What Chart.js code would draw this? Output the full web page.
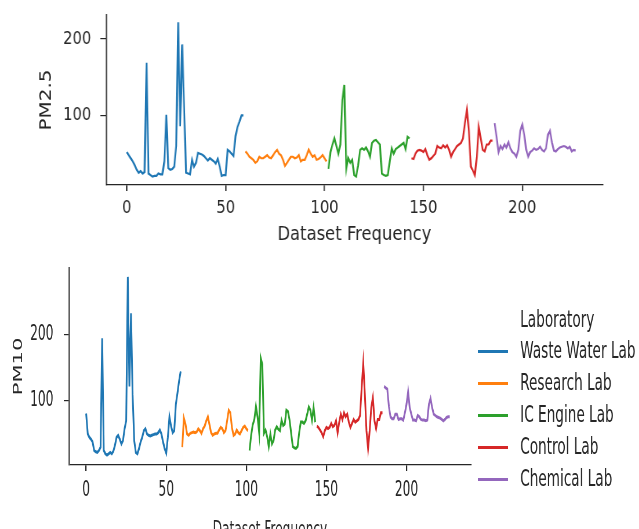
<!DOCTYPE html>
<html>
<head>
<meta charset="utf-8">
<script src="https://cdn.jsdelivr.net/npm/chart.js@4.4.1/dist/chart.umd.min.js"></script>
<style>
  html, body { margin: 0; padding: 0; background: #fff; overflow: hidden; width: 639px; height: 529px; }
  .panel { position: absolute; left: 0; transform-origin: 0 0; }
  #topPanel { top: 0; transform: scaleX(0.8192); }
  #bottomPanel { top: 250px; transform: scaleX(0.5799); }
</style>
</head>
<body>
<div class="panel" id="topPanel"><canvas id="pm25Chart" width="780" height="260"></canvas></div>
<div class="panel" id="bottomPanel"><canvas id="pm10Chart" width="1102" height="300"></canvas></div>
<script>
const labs = ["Waste Water Lab", "Research Lab", "IC Engine Lab", "Control Lab", "Chemical Lab"];
const labColors = ["#1f77b4", "#ff7f0e", "#2ca02c", "#d62728", "#9467bd"];
// first "Dataset Frequency" index of each lab
const labStart = [0, 60, 102, 144, 186];

const xTicks = [0, 50, 100, 150, 200];
const pm25Ticks = [100, 200];
const pm10Ticks = [100, 200];

// PM2.5 readings
const pm25WasteWater = [52, 48, 44, 40, 35, 29, 25, 27, 24, 26, 169, 24, 22, 20, 21, 21, 24, 23, 23, 40,
  101, 31, 29, 30, 33, 60, 222, 86, 193, 110, 25, 24, 23, 42, 33, 38, 51, 50, 49, 47,
  44, 41, 44, 42, 40, 37, 43, 33, 21, 22, 22, 55, 53, 50, 47, 73, 85, 92, 100, 100];
const pm25Research = [53, 50, 46, 44, 42, 38, 40, 46, 44, 44, 46, 48, 45, 44, 48, 52, 55, 50, 48, 42,
  34, 38, 42, 46, 46, 44, 45, 48, 40, 42, 42, 48, 55, 50, 46, 48, 42, 43, 45, 48, 44, 40];
const pm25ICEngine = [30, 52, 62, 70, 60, 50, 62, 120, 140, 30, 44, 38, 42, 22, 20, 35, 55, 57, 55, 58,
  53, 46, 64, 67, 68, 65, 62, 24, 22, 21, 22, 40, 57, 50, 56, 58, 60, 62, 64, 56, 72, 70];
const pm25Control = [44, 43, 50, 54, 55, 54, 52, 56, 48, 42, 44, 47, 50, 60, 58, 57, 61, 58, 61, 55,
  46, 52, 56, 60, 62, 64, 70, 90, 107, 80, 33, 28, 22, 45, 85, 70, 55, 53, 62, 62, 67, 67];
const pm25Chemical = [90, 72, 52, 60, 56, 62, 58, 65, 57, 52, 50, 46, 55, 80, 88, 75, 55, 46, 52, 54,
  57, 55, 56, 59, 55, 53, 57, 75, 80, 65, 54, 53, 56, 58, 59, 60, 59, 57, 59, 53, 55, 54];

// PM10 readings
const pm10WasteWater = [81, 50, 45, 42, 38, 25, 23, 22, 25, 30, 195, 25, 20, 18, 20, 22, 20, 24, 33, 45,
  48, 42, 35, 40, 58, 70, 288, 122, 233, 110, 40, 22, 20, 28, 38, 45, 55, 58, 50, 48,
  47, 48, 49, 50, 50, 52, 56, 50, 38, 28, 21, 45, 76, 62, 52, 55, 95, 112, 130, 145];
const pm10Research = [30, 74, 65, 50, 48, 51, 52, 53, 52, 53, 58, 55, 51, 58, 62, 70, 76, 64, 52, 48,
  50, 51, 51, 56, 60, 58, 52, 55, 70, 86, 82, 60, 48, 50, 56, 52, 50, 55, 60, 62, 58, 55];
const pm10ICEngine = [25, 48, 64, 72, 92, 76, 52, 165, 155, 51, 56, 46, 31, 50, 35, 40, 56, 61, 57, 55,
  71, 63, 65, 86, 84, 71, 51, 31, 29, 28, 31, 52, 68, 68, 66, 70, 80, 91, 86, 71, 90, 68];
const pm10Control = [62, 60, 56, 52, 46, 55, 60, 58, 60, 66, 61, 63, 70, 52, 68, 80, 72, 82, 76, 80,
  68, 60, 66, 72, 68, 70, 72, 78, 120, 157, 110, 55, 28, 55, 90, 105, 70, 58, 72, 72, 82, 82];
const pm10Chemical = [122, 120, 118, 92, 76, 73, 73, 80, 80, 72, 73, 73, 71, 82, 95, 114, 90, 80, 71, 71,
  70, 78, 76, 72, 71, 71, 70, 71, 95, 104, 90, 80, 78, 76, 75, 74, 72, 70, 72, 75, 76, 76];

const pm25Series = [pm25WasteWater, pm25Research, pm25ICEngine, pm25Control, pm25Chemical];
const pm10Series = [pm10WasteWater, pm10Research, pm10ICEngine, pm10Control, pm10Chemical];

const textColor = "#262626";
Chart.defaults.font.family = "'DejaVu Sans', sans-serif";

const buildDatasets = (series, lineWidth) =>
  series.map((values, i) => ({
    label: labs[i],
    data: values.map((v, j) => ({ x: labStart[i] + j, y: v })),
    borderColor: labColors[i],
    backgroundColor: labColors[i],
    borderWidth: lineWidth,
    pointRadius: 0,
    tension: 0,
    fill: false,
  }));

// drop the extra room chart.js keeps for edge labels, the plot box is fixed by the padding
const noEdgePadding = (axis) => {
  axis.paddingTop = 0;
  axis.paddingBottom = 0;
  axis.paddingLeft = 0;
  axis.paddingRight = 0;
};

// legend drawn beside the PM10 panel, like the seaborn one
const labLegend = {
  id: "labLegend",
  afterDraw(chart) {
    const { ctx, chartArea } = chart;
    const mid = (chartArea.top + chartArea.bottom) / 2;
    const x0 = chartArea.right + 12;
    const textX = chartArea.right + 85;
    ctx.save();
    ctx.font = "23.5px 'DejaVu Sans', sans-serif";
    ctx.textBaseline = "middle";
    ctx.textAlign = "left";
    ctx.fillStyle = textColor;
    ctx.fillText("Laboratory", textX, mid - 46);
    chart.data.datasets.forEach((ds, i) => {
      const y = mid - 15 + i * 32;
      ctx.strokeStyle = ds.borderColor;
      ctx.lineWidth = 3;
      ctx.beginPath();
      ctx.moveTo(x0, y);
      ctx.lineTo(x0 + 52, y);
      ctx.stroke();
      ctx.fillStyle = textColor;
      ctx.fillText(ds.label, textX, y);
    });
    ctx.restore();
  },
};

const createChart = (id, series, o) => {
  const existingChart = Chart.getChart(id);
  if (existingChart) {
    existingChart.destroy();
  }
  return new Chart(document.getElementById(id), {
    type: "line",
    data: { datasets: buildDatasets(series, o.lineWidth) },
    options: {
      responsive: false,
      animation: false,
      events: [],
      layout: { padding: o.padding },
      plugins: { legend: { display: false }, tooltip: { enabled: false } },
      scales: {
        x: {
          type: "linear",
          min: o.xMin,
          max: o.xMax,
          afterBuildTicks: (axis) => { axis.ticks = xTicks.map((v) => ({ value: v })); },
          afterFit: (axis) => { axis.height = o.xHeight; noEdgePadding(axis); },
          border: { display: true, color: textColor, width: o.xBorder },
          grid: { drawOnChartArea: false, color: textColor, lineWidth: o.xTickWidth, tickLength: 6 },
          ticks: { color: textColor, font: { size: o.tickSize }, padding: o.xTickPad, maxRotation: 0 },
          title: {
            display: true, text: "Dataset Frequency", color: textColor,
            font: { size: o.titleSize }, padding: { top: 0, bottom: o.xTitlePad },
          },
        },
        y: {
          type: "linear",
          min: o.yMin,
          max: o.yMax,
          afterBuildTicks: (axis) => { axis.ticks = o.yTicks.map((v) => ({ value: v })); },
          afterFit: (axis) => { axis.width = o.yWidth; noEdgePadding(axis); },
          border: { display: true, color: o.yBorderColor, width: o.yBorder },
          grid: { drawOnChartArea: false, color: textColor, lineWidth: 1.2, tickLength: o.yTickLen },
          ticks: { color: textColor, font: { size: o.tickSize }, padding: o.yTickPad },
          title: {
            display: true, text: o.yLabel, color: textColor,
            font: { size: o.titleSize }, padding: { top: o.yTitlePad, bottom: 0 },
          },
        },
      },
    },
    plugins: o.plugins || [],
  });
};

createChart("pm25Chart", pm25Series, {
  lineWidth: 2.2,
  padding: { top: 15, right: 44, bottom: 5, left: 0 },
  xMin: -10.5, xMax: 240.8, xHeight: 70, xBorder: 1.3, xTickWidth: 1.5, xTickPad: 7, xTitlePad: 8.5,
  yMin: 9, yMax: 231.5, yTicks: pm25Ticks, yWidth: 129.4, yBorder: 1.6, yBorderColor: textColor,
  yTickLen: 7, yTickPad: 11, yTitlePad: 45, yLabel: "PM2.5",
  tickSize: 18, titleSize: 20,
});

createChart("pm10Chart", pm10Series, {
  lineWidth: 3,
  padding: { top: 18, right: 290, bottom: 5, left: 0 },
  xMin: -10.7, xMax: 240.2, xHeight: 80, xBorder: 1.3, xTickWidth: 2.2, xTickPad: 7, xTitlePad: 2,
  yMin: 3, yMax: 301.5, yTicks: pm10Ticks, yWidth: 119, yBorder: 2.8, yBorderColor: "#555",
  yTickLen: 9, yTickPad: 18, yTitlePad: 20, yLabel: "PM10",
  tickSize: 21, titleSize: 21,
  plugins: [labLegend],
});
</script>
</body>
</html>
